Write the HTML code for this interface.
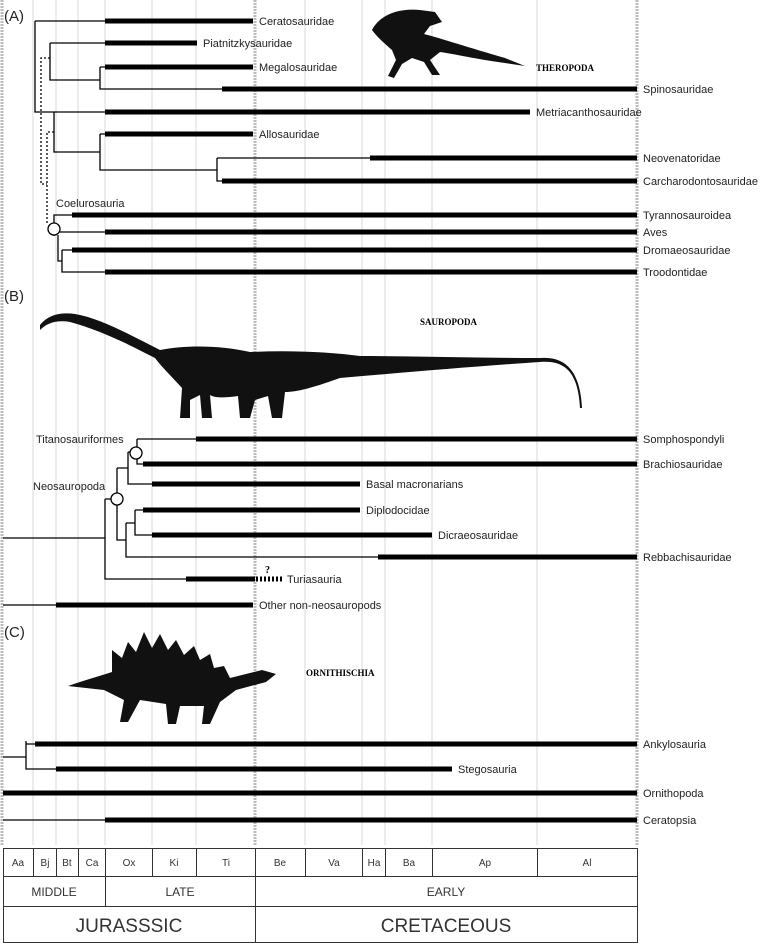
<!DOCTYPE html>
<html><head><meta charset="utf-8"><style>
html,body{margin:0;padding:0;background:#fff;}
svg{display:block;font-family:"Liberation Sans",sans-serif;}
</style></head><body>
<svg width="768" height="947" viewBox="0 0 768 947" xmlns="http://www.w3.org/2000/svg">
<!-- grid -->
<g stroke="#d8d8d8" stroke-width="1">
<line x1="33" y1="0" x2="33" y2="845"/><line x1="56" y1="0" x2="56" y2="845"/><line x1="78" y1="0" x2="78" y2="845"/>
<line x1="105" y1="0" x2="105" y2="845"/><line x1="152" y1="0" x2="152" y2="845"/><line x1="196" y1="0" x2="196" y2="845"/>
<line x1="305" y1="0" x2="305" y2="845"/><line x1="362" y1="0" x2="362" y2="845"/><line x1="385" y1="0" x2="385" y2="845"/>
<line x1="432" y1="0" x2="432" y2="845"/><line x1="537" y1="0" x2="537" y2="845"/>
</g>
<g stroke="#bbb" stroke-width="3" stroke-dasharray="2,1">
<line x1="2" y1="0" x2="2" y2="845"/><line x1="255" y1="0" x2="255" y2="845"/><line x1="637" y1="0" x2="637" y2="845"/>
</g>
<!-- silhouettes -->
<g fill="#111">
<path d="M372 30 C380 14 400 8 420 10 L435 12 L442 22 L430 26 L424 34 C440 38 470 48 505 58 L525 66 L498 62 C470 58 455 54 440 52 L430 60 L440 75 L432 75 L424 62 L412 58 L402 64 L394 78 L388 76 L396 60 L392 50 C385 44 378 38 372 30 Z"/>
<path d="M40 325 C48 315 60 312 75 314 C100 318 130 335 160 350 C185 345 220 345 250 352 C290 350 330 352 360 356 C420 356 480 358 540 358 C565 356 580 370 582 408 L580 408 C578 372 565 360 540 362 C480 366 410 372 340 378 C320 385 300 392 285 392 L282 418 L272 418 L268 396 L255 400 L250 418 L240 418 L238 396 C225 398 215 398 210 395 L212 418 L202 418 L200 395 L190 400 L190 418 L180 418 L182 388 C170 375 160 365 155 358 C130 345 100 330 70 322 C58 320 48 322 40 330 Z"/>
<path d="M68 686 C85 680 100 676 112 672 L112 650 L122 658 L128 642 L136 652 L144 632 L152 648 L160 634 L168 650 L176 640 L184 655 L194 646 L200 660 L210 654 L214 668 L224 666 L230 678 L262 670 L276 674 L266 682 L236 690 L220 702 L210 724 L202 724 L204 706 L180 706 L176 724 L168 724 L166 704 L140 700 L128 722 L120 722 L124 700 L104 690 Z"/>
</g>
<g font-family="'Liberation Serif',serif" font-weight="bold" font-size="9" fill="#000">
<text x="536" y="71">THEROPODA</text><text x="420" y="325">SAUROPODA</text><text x="306" y="676">ORNITHISCHIA</text>
</g>
<!-- thin branches -->
<g stroke="#000" stroke-width="1.3" fill="none">
<!-- A -->
<path d="M35 21H105 M35 21V112H54"/>
<path d="M50 43H105 M50 43V80H100 M100 67H105 M100 67V89H222"/>
<path d="M54 112H105 M54 112V152H100 M100 134H105 M100 134V170H217 M217 158H370 M217 158V181H222"/>
<path d="M54 223V215H72 M54 235V236 M54 232H105 M58 235V261H62 M62 250H72 M62 250V272H105"/>
<!-- B -->
<path d="M137 439H196 M137 439V447 M137 459V464H143"/>
<path d="M128 452H130 M128 452V484H152 M117 468H128 M117 468V493 M117 505V540H126"/>
<path d="M126 523V557H378 M126 523H135 M135 510H143 M135 510V535H152"/>
<path d="M3 538H105 M105 499V579H186 M105 499H111"/>
<path d="M3 605H56"/>
<!-- C -->
<path d="M3 757H26 M26 741V769H56 M26 744H35"/>
<path d="M3 820H105"/>
</g>
<g stroke="#000" stroke-width="1.3" stroke-dasharray="2,2" fill="none">
<path d="M50 58H41V184H47 M54 132H47V225"/>
</g>
<g fill="#fff" stroke="#000" stroke-width="1.3">
<circle cx="54" cy="229" r="6"/><circle cx="136" cy="453" r="6"/><circle cx="117" cy="499" r="6"/>
</g>
<!-- thick bars -->
<g stroke="#000" stroke-width="5">
<path d="M105 21H253 M105 43H197 M105 67H253 M222 89H637 M105 112H530 M105 134H253 M370 158H637 M222 181H637 M72 215H637 M105 232H637 M72 250H637 M105 272H637"/>
<path d="M196 439H637 M143 464H637 M152 484H360 M143 510H360 M152 535H432 M378 557H637 M186 579H255 M56 605H253"/>
<path d="M35 744H637 M56 769H452 M3 793H637 M105 820H637"/>
</g>
<path d="M256 579H282" stroke="#000" stroke-width="5" stroke-dasharray="2,2"/>
<!-- labels -->
<g font-size="11" fill="#222">
<text x="259" y="25">Ceratosauridae</text><text x="203" y="47">Piatnitzkysauridae</text><text x="259" y="71">Megalosauridae</text>
<text x="643" y="93">Spinosauridae</text><text x="536" y="116">Metriacanthosauridae</text><text x="259" y="138">Allosauridae</text>
<text x="643" y="162">Neovenatoridae</text><text x="643" y="185">Carcharodontosauridae</text><text x="56" y="207">Coelurosauria</text>
<text x="643" y="219">Tyrannosauroidea</text><text x="643" y="236">Aves</text><text x="643" y="254">Dromaeosauridae</text><text x="643" y="276">Troodontidae</text>
<text x="36" y="443">Titanosauriformes</text><text x="33" y="490">Neosauropoda</text>
<text x="643" y="443">Somphospondyli</text><text x="643" y="468">Brachiosauridae</text><text x="366" y="488">Basal macronarians</text>
<text x="366" y="514">Diplodocidae</text><text x="438" y="539">Dicraeosauridae</text><text x="643" y="561">Rebbachisauridae</text>
<text x="287" y="583">Turiasauria</text><text x="259" y="609">Other non-neosauropods</text>
<text x="643" y="748">Ankylosauria</text><text x="458" y="773">Stegosauria</text><text x="643" y="797">Ornithopoda</text><text x="643" y="824">Ceratopsia</text>
</g>
<text x="265" y="573" font-family="'Liberation Serif',serif" font-weight="bold" font-size="10">?</text>
<g font-size="15" fill="#222"><text x="4" y="21">(A)</text><text x="4" y="301">(B)</text><text x="4" y="637">(C)</text></g>
<!-- table -->
<g stroke="#333" stroke-width="1" fill="none">
<rect x="3.5" y="848.5" width="634" height="94"/>
<line x1="3" y1="876.5" x2="638" y2="876.5"/><line x1="3" y1="906.5" x2="638" y2="906.5"/>
<path d="M33.5 849V876 M56.5 849V876 M78.5 849V876 M105.5 849V906 M152.5 849V876 M196.5 849V876 M255.5 849V943 M305.5 849V876 M362.5 849V876 M385.5 849V876 M432.5 849V876 M537.5 849V876"/>
</g>
<g font-size="10" fill="#333" text-anchor="middle">
<text x="18" y="866">Aa</text><text x="45" y="866">Bj</text><text x="67" y="866">Bt</text><text x="92" y="866">Ca</text>
<text x="129" y="866">Ox</text><text x="174" y="866">Ki</text><text x="226" y="866">Ti</text><text x="280" y="866">Be</text>
<text x="334" y="866">Va</text><text x="374" y="866">Ha</text><text x="409" y="866">Ba</text><text x="485" y="866">Ap</text><text x="587" y="866">Al</text>
<text x="54" y="896" font-size="12">MIDDLE</text><text x="180" y="896" font-size="12">LATE</text><text x="446" y="896" font-size="12">EARLY</text>
<text x="129" y="932" font-size="19">JURASSSIC</text><text x="446" y="932" font-size="19">CRETACEOUS</text>
</g>
</svg>
</body></html>
